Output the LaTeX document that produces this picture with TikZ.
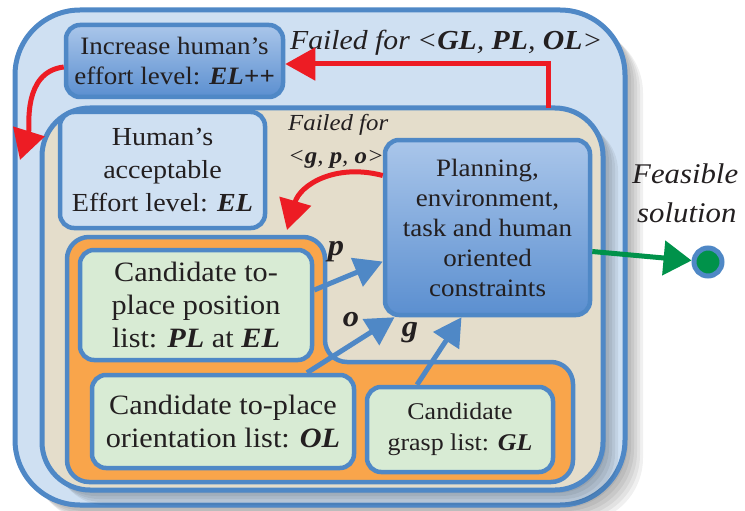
\documentclass[tikz,border=0pt]{standalone}
\usepackage{fontspec}
\setmainfont{Liberation Serif}[FakeStretch=1.08]
\usetikzlibrary{arrows.meta,calc}
\definecolor{bord}{HTML}{4F88C6}
\definecolor{outerfill}{HTML}{CFE0F2}
\definecolor{beige}{HTML}{E4DDCB}
\definecolor{orng}{HTML}{F9A54B}
\definecolor{grn}{HTML}{D8EBD4}
\definecolor{gradtop}{HTML}{AAC6EA}
\definecolor{gradbot}{HTML}{5B8FD0}
\definecolor{redc}{HTML}{ED1C24}
\definecolor{grc}{HTML}{00924A}
\definecolor{txt}{HTML}{231F20}
\newcommand{\bi}[1]{\textbf{\textit{#1}}}
\begin{document}
\begin{tikzpicture}[x=1pt,y=-1pt,
  box/.style={draw=bord,line width=4.5pt,rounded corners=14pt,align=center,text=txt,inner sep=0pt},
  lightbox/.style={box,fill=outerfill},
  greenbox/.style={box,fill=grn},
  gradbox/.style={box,top color=gradtop,bottom color=gradbot},
  lbl/.style={text=txt,inner sep=0pt},
  frame/.style={draw=bord,line width=5pt},
  shadowlayer/.style={fill=black,opacity=0.06},
  bluearr/.style={draw=bord,line width=5pt,-{Triangle[length=28pt,width=30pt]}},
  redarr/.style={draw=redc,line width=5pt,-{Triangle[length=30pt,width=32pt]}},
  grnarr/.style={draw=grc,line width=5pt,-{Triangle[length=28pt,width=34pt]}},
]
\useasboundingbox (0,0) rectangle (745,511);
% outer frame with shadow
\foreach \s in {3,6,...,18}{
  \fill[shadowlayer,rounded corners=65pt] (15+\s,10+\s) rectangle (625+\s,505+\s);
}
\draw[frame,fill=outerfill,rounded corners=65pt] (15,10) rectangle (625,505);
% inner frame with shadow
\foreach \s in {3,6,...,15}{
  \fill[shadowlayer,rounded corners=48pt] (42+\s,108+\s) rectangle (603+\s,490+\s);
}
\draw[frame,fill=beige,rounded corners=48pt] (42,108) rectangle (603,490);
% orange region
\draw[draw=bord,fill=orng,line width=4.5pt,rounded corners=22pt]
  (200,482) -- (67,482) -- (67,237) -- (325,237) -- (325,362) -- (573,362) -- (573,482) -- cycle;

% boxes
\node[gradbox,minimum width=217pt,minimum height=72pt,font=\fontsize{25}{30}\selectfont] (inc) at (174.5,61)
  {Increase human’s\\effort level: \bi{EL++}};
\node[lightbox,minimum width=205pt,minimum height=116pt,font=\fontsize{26}{33}\selectfont] (hum) at (162.5,170)
  {Human’s\\acceptable\\Effort level: \bi{EL}};
\node[gradbox,minimum width=205pt,minimum height=175pt,font=\fontsize{25}{30}\selectfont] (plan) at (487.5,227.5)
  {Planning,\\environment,\\task and human\\oriented\\constraints};
\node[greenbox,minimum width=232pt,minimum height=110pt,font=\fontsize{28}{33}\selectfont] (pos) at (196,305)
  {Candidate to-\\place position\\list: \bi{PL} at \bi{EL}};
\node[greenbox,minimum width=262pt,minimum height=93pt,font=\fontsize{28}{33}\selectfont] (ori) at (223,421.5)
  {Candidate to-place\\orientation list: \bi{OL}};
\node[greenbox,minimum width=186pt,minimum height=85pt,font=\fontsize{24}{31}\selectfont] (grasp) at (460,429.5)
  {Candidate\\grasp list: \bi{GL}};
\node[circle,draw=bord,line width=5pt,fill=grc,minimum size=28pt,inner sep=0pt] (dot) at (708,262) {};

% texts
\node[lbl,anchor=base west,font=\fontsize{27.5}{30}\selectfont] (failbig) at (290,50)
  {\textit{Failed for <\textbf{GL}, \textbf{PL}, \textbf{OL}>}};
\node[lbl,anchor=base west,font=\fontsize{23}{26}\selectfont] (failsm) at (288,130)
  {\textit{Failed for}};
\node[lbl,anchor=base west,font=\fontsize{23}{26}\selectfont] (gpo) at (288,163)
  {\textit{<\textbf{g}, \textbf{p}, \textbf{o}>}};
\node[lbl,anchor=base west,font=\fontsize{28.5}{30}\selectfont] (feas) at (632,183)
  {\textit{Feasible}};
\node[lbl,anchor=base west,font=\fontsize{28.5}{30}\selectfont] (sol) at (637,222)
  {\textit{solution}};
\node[lbl,font=\fontsize{30}{30}\selectfont] (lp) at (336,252) {\bi{p}};
\node[lbl,font=\fontsize{30}{30}\selectfont] (lo) at (351,320) {\bi{o}};
\node[lbl,font=\fontsize{30}{30}\selectfont] (lg) at (410,333) {\bi{g}};

% connectors
\coordinate (rtop) at (548,108);
\coordinate (lefttip) at (20,160);
\coordinate (plantip) at (287,230);
\draw[redarr] (rtop) |- ([yshift=-3pt]inc.east);
\draw[redarr] ([yshift=-6pt]inc.west) .. controls (22,72) and (30,128) .. (lefttip);
\draw[redarr] ([yshift=52pt]plan.west) .. controls (335,163) and (300,185) .. (plantip);
\draw[bluearr] ([yshift=15pt]pos.east) -- (plan.198);
\draw[bluearr] ([xshift=84pt]ori.north) -- (plan.224);
\draw[bluearr] ([xshift=-43pt]grasp.north) -- ([xshift=-26pt]plan.south);
\draw[grnarr] ([yshift=-24pt]plan.east) -- (dot);
\end{tikzpicture}
\end{document}
